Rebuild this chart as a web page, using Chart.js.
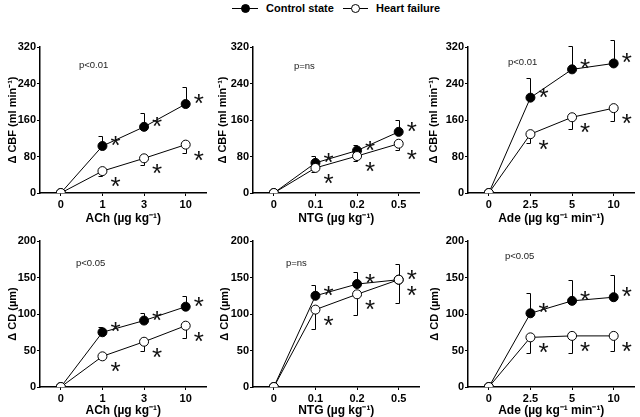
<!DOCTYPE html>
<html><head><meta charset="utf-8">
<script src="https://cdn.jsdelivr.net/npm/chart.js@4"></script>
<style>
html,body{margin:0;padding:0;background:#fff;width:640px;height:417px;overflow:hidden;position:relative;font-family:'Liberation Sans',Arial,sans-serif}
.panel{position:absolute}
.lg-line{position:absolute;height:1px;background:#000}
.lg-dot{position:absolute;width:7px;height:7px;border:1px solid #000;border-radius:50%;box-sizing:content-box}
.lg-text{position:absolute;font-weight:bold;font-size:11px;line-height:13px;color:#000;white-space:nowrap}
</style></head><body>
<div id="legend"></div>
<script>
// ---------- data ----------
const seriesNames = ['Control state', 'Heart failure'];

const achLabels = ['0', '1', '3', '10'];
const ntgLabels = ['0', '0.1', '0.2', '0.5'];
const adeLabels = ['0', '2.5', '5', '10'];

// Δ CBF (ml min-1)
const achCbfControl   = [0, 103, 145, 195];
const achCbfControlSE = [0, 23, 30, 38];
const achCbfHF        = [0, 48, 76, 106];
const achCbfHFSE      = [0, 10, 15, 19];

const ntgCbfControl   = [0, 66, 93, 134];
const ntgCbfControlSE = [0, 15, 13, 26];
const ntgCbfHF        = [0, 55, 81, 108];
const ntgCbfHFSE      = [0, 8, 11, 14];

const adeCbfControl   = [0, 209, 271, 284];
const adeCbfControlSE = [0, 44, 52, 52];
const adeCbfHF        = [0, 129, 166, 186];
const adeCbfHFSE      = [0, 20, 26, 28];

// Δ CD (µm)
const achCdControl    = [0, 75, 91, 110];
const achCdControlSE  = [0, 7, 10, 14];
const achCdHF         = [0, 42, 62, 84];
const achCdHFSE       = [0, 4, 12, 17];

const ntgCdControl    = [0, 125, 141, 147];
const ntgCdControlSE  = [0, 15, 17, 21];
const ntgCdHF         = [0, 106, 127, 147];
const ntgCdHFSE       = [0, 26, 28, 32];

const adeCdControl    = [0, 101, 118, 123];
const adeCdControlSE  = [0, 28, 28, 30];
const adeCdHF         = [0, 68, 70, 70];
const adeCdHFSE       = [0, 22, 23, 21];

const pLabels = ['p<0.01', 'p=ns', 'p<0.01', 'p<0.05', 'p=ns', 'p<0.05'];
const cbfTicks = {max: 320, step: 80};
const cdTicks  = {max: 200, step: 50};
const cbfTitle = 'Δ CBF (ml min⁻¹)';
const cdTitle  = 'Δ CD (µm)';
const xTitles  = ['ACh (µg kg⁻¹)', 'NTG (µg kg⁻¹)', 'Ade (µg kg⁻¹ min⁻¹)'];

// ---------- legend ----------
(function(){
  const lg = document.getElementById('legend');
  const items = [
    {x0: 232, x1: 258, text: 266, fill: '#000'},
    {x0: 343, x1: 368, text: 376, fill: '#fff'}
  ];
  items.forEach((it, i) => {
    const line = document.createElement('div');
    line.className = 'lg-line';
    line.style.left = it.x0 + 'px'; line.style.width = (it.x1 - it.x0) + 'px'; line.style.top = '8px';
    lg.appendChild(line);
    const dot = document.createElement('div');
    dot.className = 'lg-dot';
    const cx = (it.x0 + it.x1) / 2;
    dot.style.left = (cx - 4.5) + 'px'; dot.style.top = (8.5 - 4.5) + 'px'; dot.style.background = it.fill;
    lg.appendChild(dot);
    const t = document.createElement('div');
    t.className = 'lg-text';
    t.style.left = it.text + 'px'; t.style.top = '2px';
    t.textContent = seriesNames[i];
    lg.appendChild(t);
  });
})();

// ---------- charts ----------
Chart.defaults.font.family = "'Liberation Sans', Arial, sans-serif";
Chart.defaults.color = '#000';

const marksPlugin = {
  id: 'marks',
  beforeDatasetsDraw(chart) {
    const ctx = chart.ctx, ys = chart.scales.y;
    ctx.save();
    ctx.strokeStyle = '#000'; ctx.lineWidth = 1;
    chart.data.datasets.forEach((ds, i) => {
      const meta = chart.getDatasetMeta(i);
      meta.data.forEach((pt, j) => {
        const se = ds.se[j];
        if (!se) return;
        const v = ds.data[j];
        const yEnd = Math.round(ys.getPixelForValue(v + ds.errDir * se)) + 0.5;
        const x = Math.round(pt.x) + 0.5;
        ctx.beginPath();
        ctx.moveTo(x, pt.y);
        ctx.lineTo(x, yEnd);
        ctx.moveTo(x - 4, yEnd);
        ctx.lineTo(x, yEnd);
        ctx.stroke();
      });
    });
    ctx.restore();
  },
  afterDatasetsDraw(chart) {
    const ctx = chart.ctx;
    const o = chart.options.plugins.marks;
    ctx.save();
    ctx.fillStyle = '#111';
    ctx.font = '26px "Liberation Sans"';
    ctx.textAlign = 'center';
    ctx.textBaseline = 'alphabetic';
    const m = ctx.measureText('*');
    const shift = (m.actualBoundingBoxAscent - m.actualBoundingBoxDescent) / 2;
    chart.data.datasets.forEach((ds, i) => {
      const meta = chart.getDatasetMeta(i);
      meta.data.forEach((pt, j) => {
        if (j === 0) return;
        ctx.fillText('*', pt.x + 13, pt.y + ds.starDy + shift);
      });
    });
    ctx.font = '9.5px "Liberation Sans"';
    ctx.fillStyle = '#222';
    ctx.textAlign = 'left';
    ctx.textBaseline = 'middle';
    ctx.fillText(o.text, chart.chartArea.left + o.dx, chart.chartArea.top + o.dy);
    ctx.restore();
  }
};

const panels = [
  {labels: achLabels, c: achCbfControl, cse: achCbfControlSE, h: achCbfHF, hse: achCbfHFSE, t: cbfTicks, yt: cbfTitle, xt: xTitles[0], p: pLabels[0],
   L: 40, T: 47, R: 210, B: 193, yW: 34, xH: 33, pdx: 39, pdy: 18},
  {labels: ntgLabels, c: ntgCbfControl, cse: ntgCbfControlSE, h: ntgCbfHF, hse: ntgCbfHFSE, t: cbfTicks, yt: cbfTitle, xt: xTitles[1], p: pLabels[1],
   L: 253, T: 47, R: 423, B: 193, yW: 37, xH: 33, pdx: 41, pdy: 19},
  {labels: adeLabels, c: adeCbfControl, cse: adeCbfControlSE, h: adeCbfHF, hse: adeCbfHFSE, t: cbfTicks, yt: cbfTitle, xt: xTitles[2], p: pLabels[2],
   L: 468, T: 47, R: 638, B: 193, yW: 41, xH: 33, pdx: 40, pdy: 15},
  {labels: achLabels, c: achCdControl, cse: achCdControlSE, h: achCdHF, hse: achCdHFSE, t: cdTicks, yt: cdTitle, xt: xTitles[0], p: pLabels[3],
   L: 40, T: 241, R: 210, B: 387, yW: 34, xH: 31, pdx: 36, pdy: 22},
  {labels: ntgLabels, c: ntgCdControl, cse: ntgCdControlSE, h: ntgCdHF, hse: ntgCdHFSE, t: cdTicks, yt: cdTitle, xt: xTitles[1], p: pLabels[4],
   L: 253, T: 241, R: 423, B: 387, yW: 35, xH: 31, pdx: 33, pdy: 22},
  {labels: adeLabels, c: adeCdControl, cse: adeCdControlSE, h: adeCdHF, hse: adeCdHFSE, t: cdTicks, yt: cdTitle, xt: xTitles[2], p: pLabels[5],
   L: 468, T: 241, R: 638, B: 387, yW: 40, xH: 31, pdx: 37, pdy: 15}
];

const padTop = 17, padR = 2;

panels.forEach(pn => {
  const div = document.createElement('div');
  div.className = 'panel';
  const w = pn.R - pn.L + pn.yW + padR;
  const h = pn.B - pn.T + padTop + pn.xH;
  div.style.left = (pn.L - pn.yW) + 'px';
  div.style.top = (pn.T - padTop) + 'px';
  div.style.width = w + 'px';
  div.style.height = h + 'px';
  const cv = document.createElement('canvas');
  div.appendChild(cv);
  document.body.appendChild(div);

  new Chart(cv, {
    type: 'line',
    data: {
      labels: pn.labels,
      datasets: [
        {label: seriesNames[1], data: pn.h, se: pn.hse, errDir: -1, starDy: 11,
         borderColor: '#000', borderWidth: 1, backgroundColor: '#fff',
         pointBackgroundColor: '#fff', pointBorderColor: '#000', pointBorderWidth: 1,
         pointRadius: 4.5, tension: 0, fill: false},
        {label: seriesNames[0], data: pn.c, se: pn.cse, errDir: 1, starDy: -5,
         borderColor: '#000', borderWidth: 1, backgroundColor: '#000',
         pointBackgroundColor: '#000', pointBorderColor: '#000', pointBorderWidth: 1,
         pointRadius: 4.5, tension: 0, fill: false}
      ]
    },
    options: {
      responsive: true,
      maintainAspectRatio: false,
      animation: false,
      events: [],
      layout: {padding: {top: padTop, right: padR, left: 0, bottom: 0}},
      plugins: {
        legend: {display: false},
        tooltip: {enabled: false},
        marks: {text: pn.p, dx: pn.pdx, dy: pn.pdy}
      },
      scales: {
        x: {
          type: 'category',
          offset: true,
          grid: {display: true, drawOnChartArea: false, drawTicks: true, tickLength: 3, offset: false, color: '#000', lineWidth: 1},
          border: {display: true, color: '#000', width: 1.5},
          ticks: {font: {size: 11, weight: 'bold'}, padding: 2, color: '#000', maxRotation: 0, autoSkip: false},
          title: {display: true, text: pn.xt, font: {size: 12, weight: 'bold'}, padding: {top: 0, bottom: 0}, color: '#000'},
          afterFit(s) { s.height = pn.xH; }
        },
        y: {
          min: 0, max: pn.t.max,
          grid: {display: true, drawOnChartArea: false, drawTicks: true, tickLength: 3, color: '#000', lineWidth: 1},
          border: {display: true, color: '#000', width: 1.5},
          ticks: {stepSize: pn.t.step, font: {size: 11, weight: 'bold'}, padding: 1, color: '#000'},
          title: {display: true, text: pn.yt, font: {size: 11, weight: 'bold'}, padding: {top: 0, bottom: 0}, color: '#000'},
          afterFit(s) { s.width = pn.yW; }
        }
      }
    },
    plugins: [marksPlugin]
  });
});
</script>
</body></html>
